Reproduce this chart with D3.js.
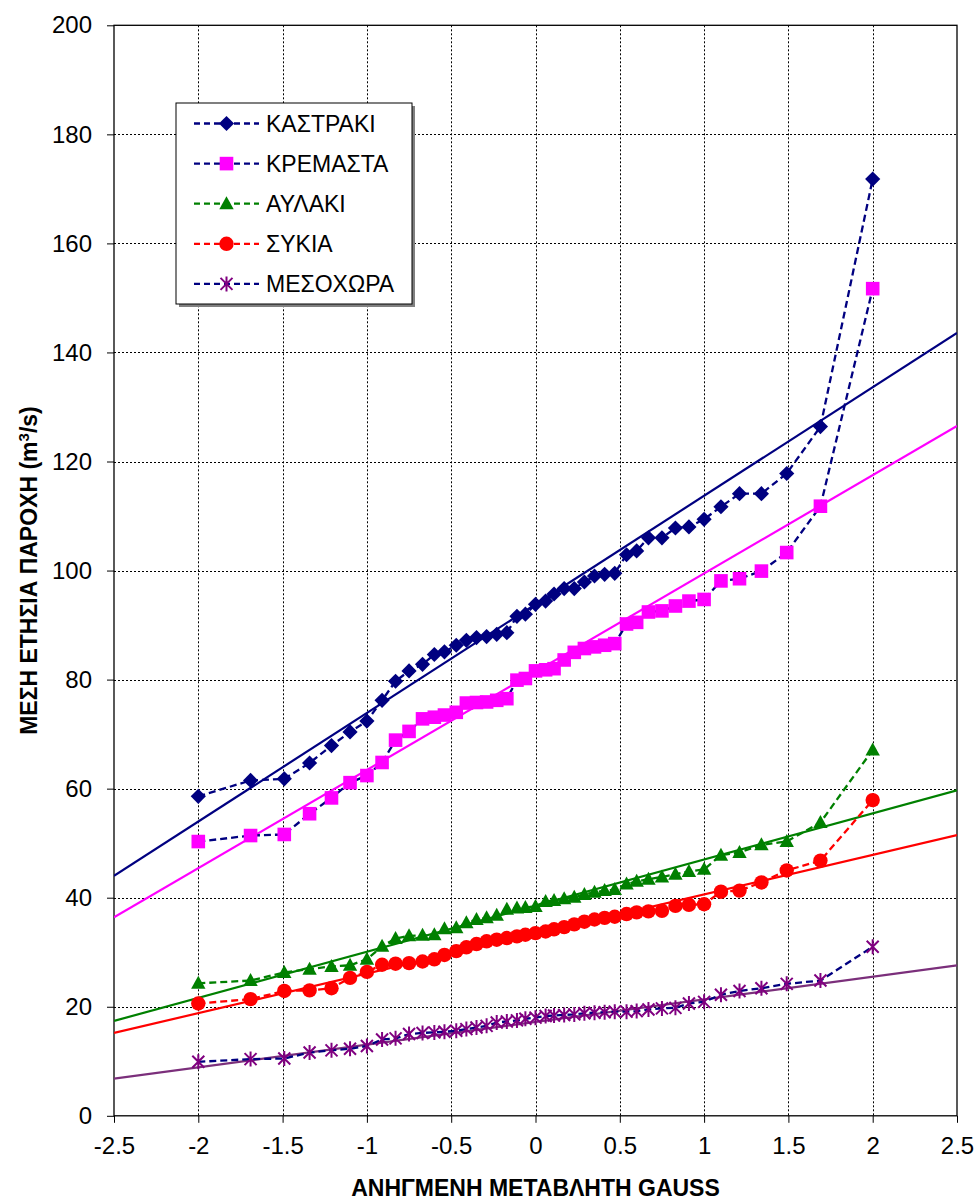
<!DOCTYPE html>
<html>
<head>
<meta charset="utf-8">
<script src="https://cdn.jsdelivr.net/npm/d3@7"></script>
<style>
  html, body { margin: 0; padding: 0; background: #fff; }
  svg { display: block; font-family: Arial, "Liberation Sans", sans-serif; }
</style>
</head>
<body>
<svg id="chart" width="978" height="1203"></svg>
<script>
// Standard normal variates (plotting positions) of the 43 ranked years
const gaussVariate = [-2.00, -1.69, -1.49, -1.34, -1.21, -1.10, -1.00, -0.91, -0.83, -0.75, -0.67,
  -0.60, -0.54, -0.47, -0.41, -0.35, -0.29, -0.23, -0.17, -0.11, -0.06, 0.00, 0.06, 0.11, 0.17,
  0.23, 0.29, 0.35, 0.41, 0.47, 0.54, 0.60, 0.67, 0.75, 0.83, 0.91, 1.00, 1.10, 1.21, 1.34,
  1.49, 1.69, 2.00];

// Mean annual discharge (m3/s), ranked
const kastraki = [58.6, 61.5, 61.8, 64.7, 67.9, 70.4, 72.4, 76.2, 79.7, 81.6, 82.8, 84.6, 85.1,
  86.3, 87.2, 87.7, 87.9, 88.3, 88.6, 91.6, 92.0, 93.8, 94.4, 95.7, 96.7, 96.7, 97.9, 99.0, 99.3,
  99.5, 102.9, 103.6, 106.0, 106.0, 107.8, 108.0, 109.4, 111.7, 114.1, 114.1, 117.8, 126.4, 171.8];
const kremasta = [50.3, 51.4, 51.6, 55.4, 58.3, 61.1, 62.4, 64.8, 68.9, 70.5, 72.8, 73.1, 73.5,
  74.0, 75.7, 75.8, 75.9, 76.2, 76.5, 79.9, 80.2, 81.6, 81.8, 82.0, 83.6, 85.0, 85.7, 86.0, 86.3,
  86.6, 90.2, 90.5, 92.4, 92.6, 93.5, 94.4, 94.7, 98.1, 98.5, 99.9, 103.3, 111.8, 151.7];
const avlaki = [24.3, 24.8, 26.3, 26.9, 27.4, 27.6, 28.7, 31.1, 32.5, 33.0, 33.1, 33.2, 34.3,
  34.5, 35.4, 36.0, 36.3, 36.8, 37.9, 38.1, 38.2, 38.4, 39.3, 39.5, 39.8, 40.1, 40.6, 41.0, 41.3,
  41.5, 42.5, 43.0, 43.4, 43.8, 44.3, 44.8, 45.2, 47.8, 48.3, 49.7, 50.3, 53.8, 67.1];
const sykia = [20.6, 21.4, 22.9, 23.0, 23.4, 25.3, 26.4, 27.7, 27.9, 28.0, 28.3, 28.7, 29.5,
  30.2, 30.9, 31.5, 32.0, 32.3, 32.6, 32.9, 33.2, 33.5, 33.8, 34.2, 34.6, 35.1, 35.6, 36.0, 36.3,
  36.5, 37.0, 37.3, 37.5, 37.6, 38.5, 38.7, 38.8, 41.1, 41.3, 42.8, 45.0, 46.8, 57.9];
const mesochora = [9.9, 10.4, 10.5, 11.6, 12.0, 12.3, 12.8, 14.0, 14.2, 15.0, 15.2, 15.3, 15.4,
  15.6, 15.9, 16.2, 16.5, 17.1, 17.3, 17.5, 17.8, 18.0, 18.3, 18.4, 18.5, 18.6, 18.8, 18.9, 19.0,
  19.1, 19.1, 19.2, 19.5, 19.7, 19.8, 20.6, 20.9, 22.2, 22.9, 23.4, 24.2, 24.8, 31.0];

// Fitted normal lines: value at z = -2.5 and z = 2.5
const fitZ = [-2.5, 2.5];
const fitKastraki = [44.0, 143.6];
const fitKremasta = [36.4, 126.5];
const fitAvlaki = [17.4, 59.7];
const fitSykia = [15.2, 51.5];
const fitMesochora = [6.8, 27.6];

const seriesNames = ["ΚΑΣΤΡΑΚΙ", "ΚΡΕΜΑΣΤΑ", "ΑΥΛΑΚΙ", "ΣΥΚΙΑ", "ΜΕΣΟΧΩΡΑ"];
const xTicks = [-2.5, -2, -1.5, -1, -0.5, 0, 0.5, 1, 1.5, 2, 2.5];
const yTicks = [0, 20, 40, 60, 80, 100, 120, 140, 160, 180, 200];

const series = [
  { name: seriesNames[0], values: kastraki, fit: fitKastraki, marker: "diamond", fill: "#000080", line: "#000080", fitColor: "#000080" },
  { name: seriesNames[1], values: kremasta, fit: fitKremasta, marker: "square", fill: "#FF00FF", line: "#000080", fitColor: "#FF00FF" },
  { name: seriesNames[2], values: avlaki, fit: fitAvlaki, marker: "triangle", fill: "#008000", line: "#008000", fitColor: "#008000" },
  { name: seriesNames[3], values: sykia, fit: fitSykia, marker: "circle", fill: "#FF0000", line: "#FF0000", fitColor: "#FF0000" },
  { name: seriesNames[4], values: mesochora, fit: fitMesochora, marker: "star", fill: "#800080", line: "#000080", fitColor: "#7b2f7b" }
];

const svg = d3.select("#chart");
const plot = { left: 114, right: 957, top: 25.3, bottom: 1115.8 };

const x = d3.scaleLinear().domain([-2.5, 2.5]).range([plot.left, plot.right]);
const y = d3.scaleLinear().domain([0, 200]).range([plot.bottom, plot.top]);

svg.append("rect").attr("width", 978).attr("height", 1203).attr("fill", "#fff");

// Grid
const grid = svg.append("g").attr("stroke", "#000").attr("stroke-width", 1).attr("stroke-dasharray", "2,2");
grid.selectAll("line.h").data(yTicks.slice(1, -1)).join("line")
  .attr("x1", plot.left).attr("x2", plot.right)
  .attr("y1", d => Math.round(y(d)) + 0.5).attr("y2", d => Math.round(y(d)) + 0.5);
grid.selectAll("line.v").data(xTicks.slice(1, -1)).join("line")
  .attr("y1", plot.top).attr("y2", plot.bottom)
  .attr("x1", d => Math.round(x(d)) + 0.5).attr("x2", d => Math.round(x(d)) + 0.5);

// Axes
const fmt = d => String(d);
const yAxis = svg.append("g").attr("transform", `translate(${plot.left},0)`)
  .call(d3.axisLeft(y).tickValues(yTicks).tickFormat(fmt).tickSize(7).tickPadding(15));
const xAxis = svg.append("g").attr("transform", `translate(0,${plot.bottom})`)
  .call(d3.axisBottom(x).tickValues(xTicks).tickFormat(fmt).tickSize(7).tickPadding(14));
[yAxis, xAxis].forEach(a => {
  a.select(".domain").remove();
  a.selectAll("line").attr("stroke", "#000");
  a.selectAll("text").attr("font-size", 24).attr("fill", "#000")
    .attr("font-family", "Arial, 'Liberation Sans', sans-serif");
});

// Plot frame
svg.append("rect")
  .attr("x", plot.left).attr("y", plot.top)
  .attr("width", plot.right - plot.left).attr("height", plot.bottom - plot.top)
  .attr("fill", "none").attr("stroke", "#000").attr("stroke-width", 1.3);

// Clip for lines
svg.append("clipPath").attr("id", "plotClip").append("rect")
  .attr("x", plot.left).attr("y", plot.top)
  .attr("width", plot.right - plot.left).attr("height", plot.bottom - plot.top);

// Marker shapes
function markerPath(type) {
  switch (type) {
    case "diamond": return "M0,-7.6L7.6,0L0,7.6L-7.6,0Z";
    case "square": return "M-6.8,-6.8H6.8V6.8H-6.8Z";
    case "triangle": return "M0,-7.5L7.2,5.5H-7.2Z";
    case "circle": return d3.symbol(d3.symbolCircle, Math.PI * 7.2 * 7.2)();
    case "star": return "M-6,-6L6,6M-6,6L6,-6M0,-7.5V7.5";
  }
}
function drawMarker(g, s) {
  const p = g.append("path").attr("d", markerPath(s.marker));
  if (s.marker === "star") {
    p.attr("fill", "none").attr("stroke", s.fill).attr("stroke-width", 2);
  } else {
    p.attr("fill", s.fill).attr("stroke", "none");
  }
  return p;
}

// Fitted lines
const fitLayer = svg.append("g").attr("clip-path", "url(#plotClip)");
series.forEach(s => {
  fitLayer.append("path")
    .datum(fitZ.map((z, i) => [z, s.fit[i]]))
    .attr("fill", "none").attr("stroke", s.fitColor).attr("stroke-width", 2.2)
    .attr("d", d3.line().x(d => x(d[0])).y(d => y(d[1])));
});

// Observed series: dashed connectors and markers
const line = d3.line().x(d => x(d[0])).y(d => y(d[1]));
series.forEach(s => {
  const pts = gaussVariate.map((z, i) => [z, s.values[i]]);
  svg.append("path").datum(pts)
    .attr("fill", "none").attr("stroke", s.line).attr("stroke-width", 2.3)
    .attr("stroke-dasharray", "7,4").attr("d", line);
  const mg = svg.append("g");
  pts.forEach(p => {
    const g = mg.append("g").attr("transform", `translate(${x(p[0])},${y(p[1])})`);
    drawMarker(g, s);
  });
});

// Legend
const leg = { x: 176, y: 103, w: 236, h: 201 };
svg.append("rect").attr("x", leg.x + 3).attr("y", leg.y + 3).attr("width", leg.w).attr("height", leg.h)
  .attr("fill", "#808080");
svg.append("rect").attr("x", leg.x).attr("y", leg.y).attr("width", leg.w).attr("height", leg.h)
  .attr("fill", "#fff").attr("stroke", "#000").attr("stroke-width", 1);
series.forEach((s, i) => {
  const cy = 123.5 + i * 40.1;
  svg.append("line").attr("x1", 194).attr("x2", 259).attr("y1", cy).attr("y2", cy)
    .attr("stroke", s.line).attr("stroke-width", 2.3).attr("stroke-dasharray", "6,4");
  const g = svg.append("g").attr("transform", `translate(226.5,${cy})`);
  drawMarker(g, s);
  svg.append("text").attr("x", 266).attr("y", cy + 8.3)
    .attr("font-size", 23).attr("fill", "#000").text(s.name);
});

// Axis titles
svg.append("text")
  .attr("x", (plot.left + plot.right) / 2).attr("y", 1196)
  .attr("text-anchor", "middle").attr("font-size", 23).attr("font-weight", "bold")
  .text("ΑΝΗΓΜΕΝΗ ΜΕΤΑΒΛΗΤΗ GAUSS");

const yTitle = svg.append("text")
  .attr("transform", `translate(37,${(plot.top + plot.bottom) / 2}) rotate(-90)`)
  .attr("text-anchor", "middle").attr("font-size", 23).attr("font-weight", "bold");
yTitle.append("tspan").text("ΜΕΣΗ ΕΤΗΣΙΑ ΠΑΡΟΧΗ (m");
yTitle.append("tspan").attr("font-size", 15).attr("dy", -8).text("3");
yTitle.append("tspan").attr("dy", 8).text("/s)");
</script>
</body>
</html>
